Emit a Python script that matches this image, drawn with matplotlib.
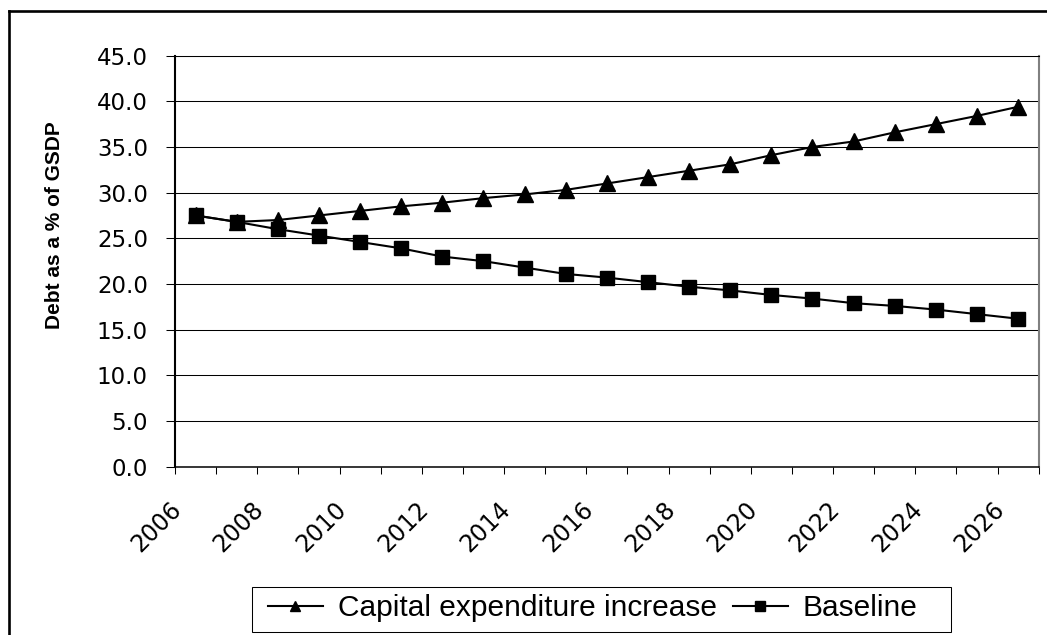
import matplotlib
matplotlib.use('Agg')
import matplotlib.pyplot as plt
import matplotlib.transforms as mtransforms
from matplotlib.lines import Line2D
from matplotlib.patches import Rectangle

years = list(range(2006, 2027))
capex = [27.5, 26.8, 27.0, 27.5, 28.0, 28.5, 28.9, 29.4, 29.8, 30.3, 31.0,
         31.7, 32.4, 33.1, 34.1, 35.0, 35.6, 36.6, 37.5, 38.4, 39.4]
baseline = [27.5, 26.8, 26.0, 25.3, 24.6, 23.9, 23.0, 22.5, 21.8, 21.1, 20.7,
            20.2, 19.7, 19.3, 18.8, 18.4, 17.9, 17.6, 17.2, 16.7, 16.2]
series_names = ['Capital expenditure increase', 'Baseline']
yticks = [0, 5, 10, 15, 20, 25, 30, 35, 40, 45]
ylabel = 'Debt as a % of GSDP'

W, H = 1047, 635
fig = plt.figure(figsize=(W / 100, H / 100), dpi=100)
ax = fig.add_axes([175 / W, 1 - 466.7 / H, 863.7 / W, 411.1 / H])

x = list(range(len(years)))
l1, = ax.plot(x, capex, color='black', lw=1.5, marker='^', ms=11.2,
              label=series_names[0], zorder=3, clip_on=False)
l2, = ax.plot(x, baseline, color='black', lw=1.5, marker='s', ms=9.8,
              label=series_names[1], zorder=4, clip_on=False)

ax.set_xlim(-0.5, len(years) - 0.5)
ax.set_ylim(0, 45)
ax.set_yticks(yticks)
ax.set_yticklabels([f'{v:.1f}' for v in yticks], fontfamily='DejaVu Sans', fontsize=16.5)
ax.set_xticks(x[::2])
ax.set_xticklabels([str(y) for y in years[::2]], rotation=45, ha='right', va='top',
                   rotation_mode='anchor', fontfamily='DejaVu Sans', fontsize=17)
ax.set_xticks([i - 0.5 for i in range(len(years) + 1)], minor=True)
ax.tick_params(axis='x', which='major', length=0, pad=22)
ax.tick_params(axis='x', which='minor', length=5, width=0.75, direction='out', color='black')
ax.tick_params(axis='y', length=6.5, width=0.75, direction='out', pad=13, color='black')

offset = mtransforms.ScaledTranslation(-0.26, 0, fig.dpi_scale_trans)
for lbl in ax.get_xticklabels():
    lbl.set_transform(lbl.get_transform() + offset)

ax.grid(axis='y', color='black', lw=0.75)
ax.set_axisbelow(True)
ax.spines['left'].set_linewidth(1.5)
ax.spines['bottom'].set_linewidth(1.1)
ax.spines['top'].set_linewidth(0.75)
ax.spines['right'].set_color('#808080')
ax.spines['right'].set_linewidth(1.5)

ax.set_ylabel(ylabel, fontsize=15, fontweight='bold', family='Liberation Sans',
              ha='center', va='center')
ax.yaxis.set_label_coords((55 - 175) / 863.7, (466.7 - 225) / 411.1)

# legend
fig.legend([l1, l2], series_names, loc='center left',
           bbox_to_anchor=(268 / W, 1 - 608 / H), frameon=False, ncol=2,
           prop={'family': 'Liberation Sans', 'size': 21.5},
           handlelength=1.84, handletextpad=0.5, columnspacing=0.54,
           borderpad=0, borderaxespad=0, markerscale=0.7)
fig.add_artist(Rectangle((252 / W, 1 - 632 / H), (951 - 252) / W, (632 - 587) / H,
                         transform=fig.transFigure, fill=False, ec='black', lw=0.75))

# outer chart frame
fig.add_artist(Line2D([9 / W, 9 / W], [0, 1 - 11 / H], transform=fig.transFigure,
                      color='black', lw=1.9))
fig.add_artist(Line2D([9 / W, 1], [1 - 11 / H, 1 - 11 / H], transform=fig.transFigure,
                      color='black', lw=1.9))

fig.savefig('out.png', dpi=100)
